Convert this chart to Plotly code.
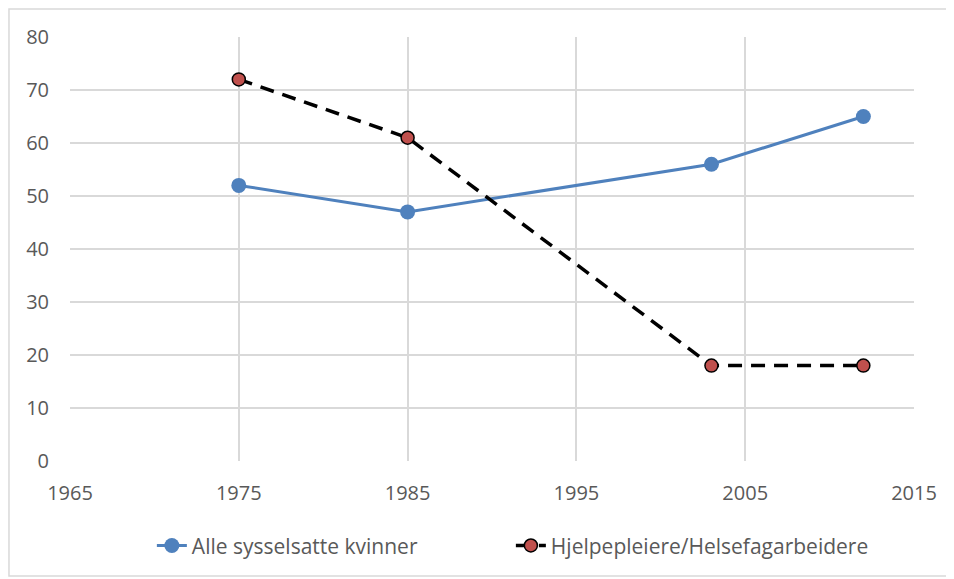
import plotly.graph_objects as go

years_all = [1975, 1985, 2003, 2012]
alle = [52, 47, 56, 65]
years_hj = [1975, 1985, 2003, 2012]
hjelpe = [72, 61, 18, 18]
x_ticks = [1965, 1975, 1985, 1995, 2005, 2015]
y_ticks = [0, 10, 20, 30, 40, 50, 60, 70, 80]

fig = go.Figure()
fig.add_trace(go.Scatter(
    x=years_all, y=alle, mode="lines+markers", name="Alle sysselsatte kvinner",
    line=dict(color="#4F81BD", width=3),
    marker=dict(color="#4F81BD", size=15)))
fig.add_trace(go.Scatter(
    x=years_hj, y=hjelpe, mode="lines+markers", name="Hjelpepleiere/Helsefagarbeidere",
    line=dict(color="black", width=3.5, dash="14px,9px"),
    marker=dict(color="#C0504D", size=13, line=dict(color="black", width=1.5))))

font = "Open Sans, Liberation Sans, sans-serif"
fig.update_layout(
    width=954, height=579,
    margin=dict(l=62, r=48, t=29, b=126, autoexpand=False),
    paper_bgcolor="white", plot_bgcolor="white",
    font=dict(family=font, size=20, color="#595959"),
    showlegend=True,
    legend=dict(orientation="h", x=0.097, xanchor="left", y=-0.2, yanchor="middle",
                entrywidth=314, entrywidthmode="pixels",
                font=dict(size=21, color="#595959"), tracegroupgap=0),
    xaxis=dict(range=[1965, 2015], tickvals=x_ticks, showgrid=True, gridcolor="#d9d9d9",
               gridwidth=1.5, zeroline=False, showline=False, ticks="outside", ticklen=14,
               tickcolor="rgba(0,0,0,0)", tickfont=dict(size=20, color="#595959")),
    yaxis=dict(range=[0, 80], tickvals=y_ticks, showgrid=True, gridcolor="#d9d9d9",
               gridwidth=1.5, zeroline=False, showline=False, ticks="outside", ticklen=16,
               tickcolor="rgba(0,0,0,0)", tickfont=dict(size=20, color="#595959")),
    shapes=[dict(type="rect", xref="paper", yref="paper",
                 x0=-0.0723, x1=1.0403, y0=-0.271, y1=1.066,
                 line=dict(color="#d9d9d9", width=1.5), fillcolor="rgba(0,0,0,0)", layer="below")],
)
fig.write_html("out.html")
